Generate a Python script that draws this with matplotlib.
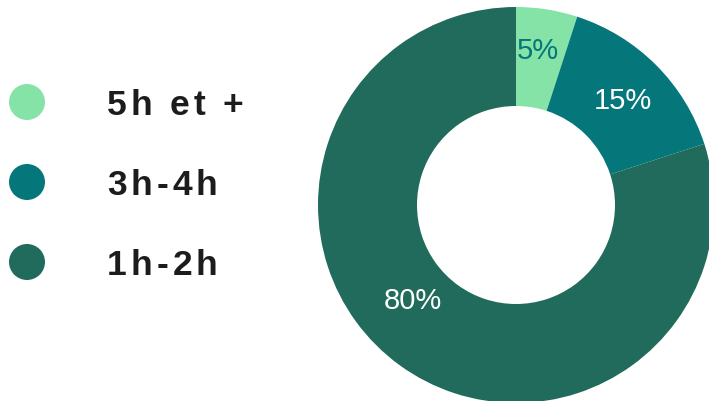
import numpy as np
import matplotlib
matplotlib.use("Agg")
import matplotlib.pyplot as plt

# data
categories = ["5h et +", "3h-4h", "1h-2h"]
shares = [5, 15, 80]
colors = ["#86E3A8", "#05777A", "#206B5B"]
pct_colors = ["#05777A", "white", "white"]

W, H = 709, 401
plt.rcParams["font.family"] = ["Liberation Sans", "DejaVu Sans"]

fig = plt.figure(figsize=(W / 100, H / 100), dpi=100)
ax = fig.add_axes([0, 0, 1, 1])

# donut, pixel coordinates (y measured from the bottom)
cx, cy = 516, H - 205
R, ring = 198, 99
wedges, _ = ax.pie(shares, colors=colors, startangle=90, counterclock=False,
                   radius=R, center=(cx, cy), frame=True,
                   wedgeprops=dict(width=ring, edgecolor="none", antialiased=True))

# percentage labels, placed on the ring like the original
label_pos = [(538, 51), (623, 101), (413, 301)]
for s, c, (x, y) in zip(shares, pct_colors, label_pos):
    ax.text(x, H - y, f"{s}%", color=c, fontsize=21,
            ha="center", va="center")

# legend: dots and letter-spaced bold text
fig.canvas.draw()
renderer = fig.canvas.get_renderer()
legend_y = [102, 182, 262]
for cat, col, y in zip(categories, colors, legend_y):
    ax.add_patch(plt.Circle((27, H - y), 18, color=col, lw=0))
    x = 107
    for ch in cat:
        if ch == " ":
            x += 13
            continue
        t = ax.text(x, H - y, ch, fontsize=25.5, fontweight="bold",
                    color="#1c1c1c", ha="left", va="center_baseline")
        bb = t.get_window_extent(renderer)
        x += bb.width + 4

ax.set_xlim(0, W)
ax.set_ylim(0, H)
ax.set_aspect("equal")
ax.axis("off")

fig.savefig("out.png", dpi=100)
